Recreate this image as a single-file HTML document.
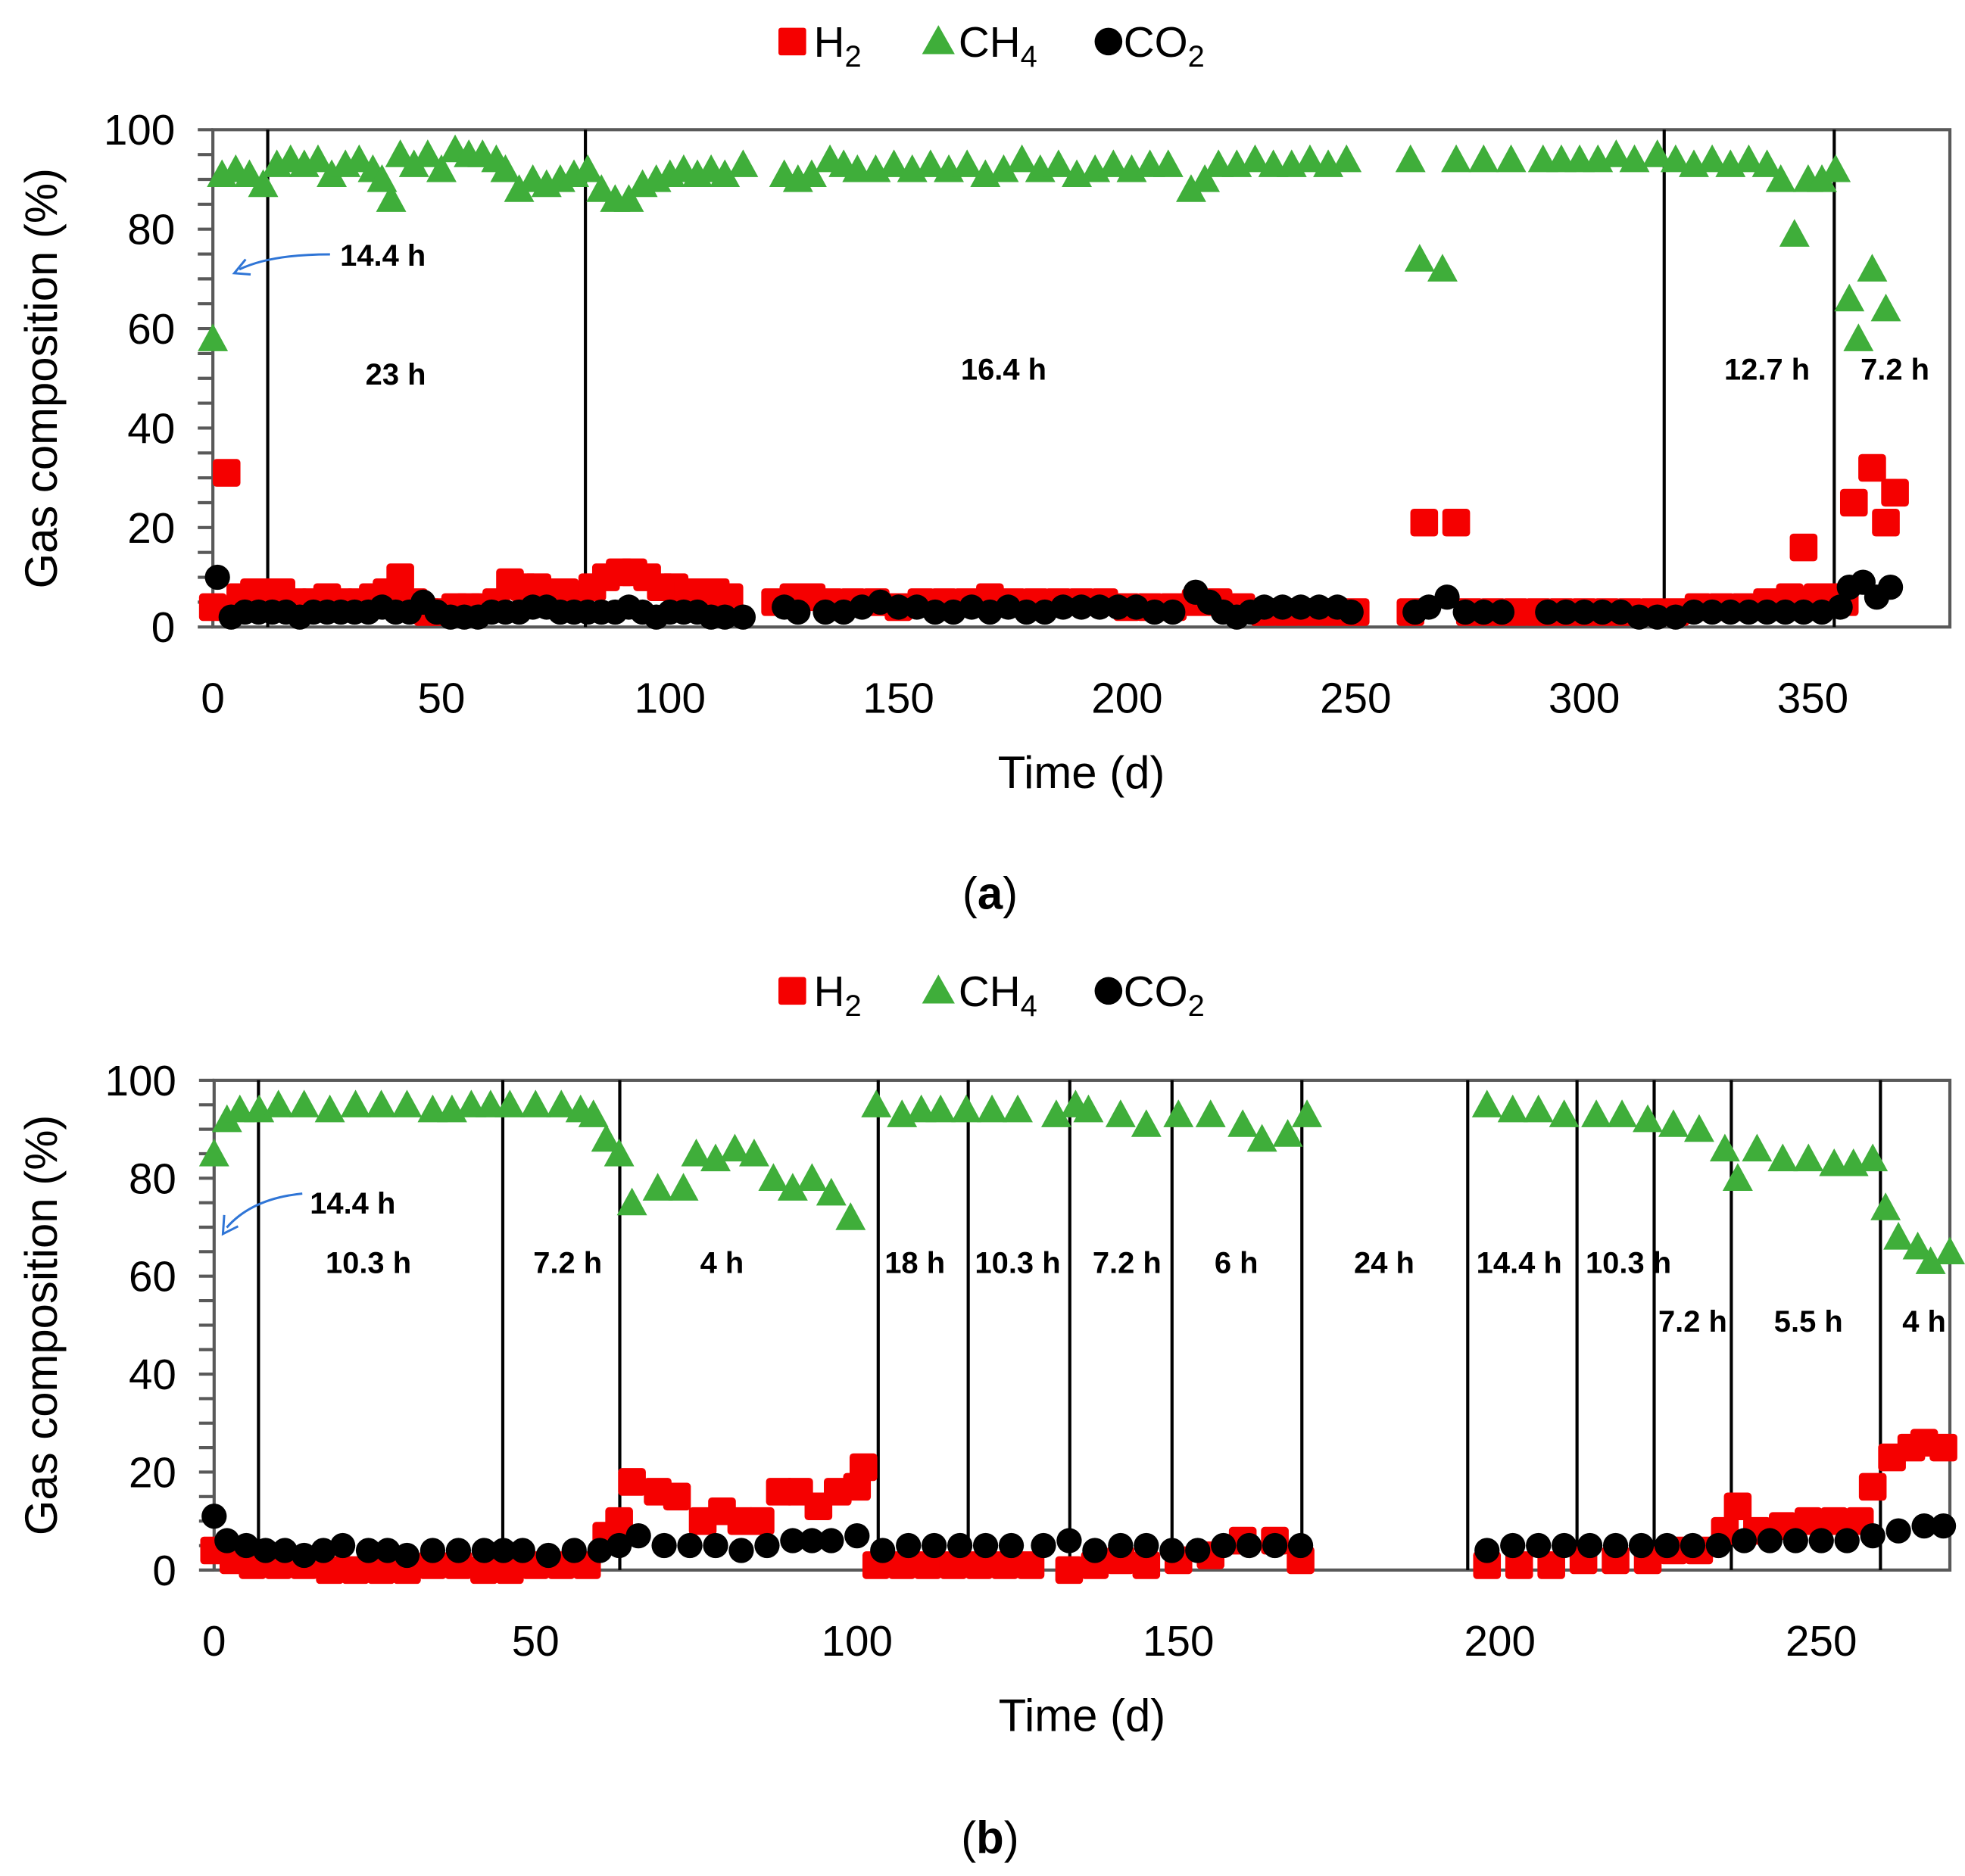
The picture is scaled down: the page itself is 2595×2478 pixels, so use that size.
<!DOCTYPE html>
<html><head><meta charset="utf-8"><style>
html,body{margin:0;padding:0;background:#fff;}
svg{display:block;}
text{font-family:"Liberation Sans","DejaVu Sans",sans-serif;}
</style></head><body>
<svg id="chart" width="2595" height="2478" viewBox="0 0 1560 1490" preserveAspectRatio="none" xmlns="http://www.w3.org/2000/svg">
<rect width="1560" height="1490" fill="#fff"/>
</svg>
<script>
// ---------- Panel (a) data ----------
const aCH4 = [[0,58],[2,91],[5,92],[8,91],[11,89],[14,93],[17,94],[20,93],[23,94],[26,91],[29,93],[32,94],[35,92],[37,90],[39,86],[41,95],[44,93],[47,95],[50,92],[53,96],[56,95],[59,95],[62,94],[64,92],[67,88],[70,90],[73,89],[76,90],[79,91],[82,92],[85,88],[88,86],[91,86],[94,89],[97,90],[100,91],[103,92],[106,91],[109,92],[112,91],[116,93],[125,91],[128,90],[131,91],[135,94],[138,93],[141,92],[145,92],[149,93],[153,92],[157,93],[161,92],[165,93],[169,91],[173,92],[177,94],[181,92],[185,93],[189,91],[193,92],[197,93],[201,92],[205,93],[209,93],[214,88],[217,90],[220,93],[224,93],[228,94],[232,93],[236,93],[240,94],[244,93],[248,94],[262,94],[264,74],[269,72],[272,94],[278,94],[284,94],[291,94],[295,94],[299,94],[303,94],[307,95],[311,94],[316,95],[320,94],[324,93],[328,94],[332,93],[336,94],[340,93],[343,90],[346,79],[349,90],[352,90],[355,92],[358,66],[360,58],[363,72],[366,64]];
const aH2 = [[0,4],[3,31],[6,6],[9,7],[12,7],[15,7],[18,5],[22,5],[25,6],[28,5],[32,5],[35,6],[38,7],[41,10],[44,5],[47,3],[50,3],[53,4],[56,4],[59,4],[62,5],[65,9],[68,8],[71,8],[74,7],[77,7],[80,6],[83,8],[86,10],[89,11],[92,11],[95,10],[98,8],[101,8],[104,7],[107,7],[110,7],[113,6],[123,5],[127,6],[131,6],[135,5],[140,5],[145,5],[150,4],[155,5],[160,5],[165,5],[170,6],[175,5],[180,5],[185,5],[190,5],[195,5],[200,4],[205,4],[210,4],[215,5],[220,5],[225,4],[230,3],[235,3],[240,3],[245,3],[250,3],[262,3],[265,21],[272,21],[275,3],[280,3],[285,3],[290,3],[295,3],[300,3],[305,3],[310,3],[315,3],[320,3],[325,4],[330,4],[335,4],[340,5],[345,6],[348,16],[351,6],[354,6],[357,5],[359,25],[363,32],[366,21],[368,27]];
const aCO2 = [[1,10],[4,2],[7,3],[10,3],[13,3],[16,3],[19,2],[22,3],[25,3],[28,3],[31,3],[34,3],[37,4],[40,3],[43,3],[46,5],[49,3],[52,2],[55,2],[58,2],[61,3],[64,3],[67,3],[70,4],[73,4],[76,3],[79,3],[82,3],[85,3],[88,3],[91,4],[94,3],[97,2],[100,3],[103,3],[106,3],[109,2],[112,2],[116,2],[125,4],[128,3],[134,3],[138,3],[142,4],[146,5],[150,4],[154,4],[158,3],[162,3],[166,4],[170,3],[174,4],[178,3],[182,3],[186,4],[190,4],[194,4],[198,4],[202,4],[206,3],[210,3],[215,7],[218,5],[221,3],[224,2],[227,3],[230,4],[234,4],[238,4],[242,4],[246,4],[249,3],[263,3],[266,4],[270,6],[274,3],[278,3],[282,3],[292,3],[296,3],[300,3],[304,3],[308,3],[312,2],[316,2],[320,2],[324,3],[328,3],[332,3],[336,3],[340,3],[344,3],[348,3],[352,3],[356,4],[358,8],[361,9],[364,6],[367,8]];
const aDividers = [12, 81.5, 317.5, 354.7];
const aLabels = [["23 h",40,51],["16.4 h",173,52],["12.7 h",340,52],["7.2 h",368,52]];
const aXTicks = [0,50,100,150,200,250,300,350];

// ---------- Panel (b) data ----------
const bCH4 = [[0,85],[2,92],[4,94],[7,94],[10,95],[14,95],[18,94],[22,95],[26,95],[30,95],[34,94],[37,94],[40,95],[43,95],[46,95],[50,95],[54,95],[57,94],[59,93],[61,88],[63,85],[65,75],[69,78],[73,78],[75,85],[78,84],[81,86],[84,85],[87,80],[90,78],[93,80],[96,77],[99,72],[103,95],[107,93],[110,94],[113,94],[117,94],[121,94],[125,94],[131,93],[134,95],[136,94],[141,93],[145,91],[150,93],[155,93],[160,91],[163,88],[167,89],[170,93],[198,95],[202,94],[206,94],[210,93],[215,93],[219,93],[223,92],[227,91],[231,90],[235,86],[237,80],[240,86],[244,84],[248,84],[252,83],[255,83],[258,84],[260,74],[262,68],[265,66],[267,63],[270,65]];
const bH2 = [[0,4],[3,2],[6,1],[10,1],[14,1],[18,0],[22,0],[26,0],[30,0],[34,1],[38,1],[42,0],[46,0],[50,1],[54,1],[58,1],[61,7],[63,10],[65,18],[69,16],[72,15],[76,10],[79,12],[82,10],[85,10],[88,16],[91,16],[94,13],[97,16],[100,17],[101,21],[103,1],[107,1],[111,1],[115,1],[119,1],[123,1],[127,1],[133,0],[137,1],[141,2],[145,1],[150,2],[155,3],[160,6],[165,6],[169,2],[198,1],[203,1],[208,1],[213,2],[218,2],[223,2],[227,4],[231,4],[235,8],[237,13],[240,8],[244,9],[248,10],[252,10],[256,10],[258,17],[261,23],[264,25],[266,26],[269,25]];
const bCO2 = [[0,11],[2,6],[5,5],[8,4],[11,4],[14,3],[17,4],[20,5],[24,4],[27,4],[30,3],[34,4],[38,4],[42,4],[45,4],[48,4],[52,3],[56,4],[60,4],[63,5],[66,7],[70,5],[74,5],[78,5],[82,4],[86,5],[90,6],[93,6],[96,6],[100,7],[104,4],[108,5],[112,5],[116,5],[120,5],[124,5],[129,5],[133,6],[137,4],[141,5],[145,5],[149,4],[153,4],[157,5],[161,5],[165,5],[169,5],[198,4],[202,5],[206,5],[210,5],[214,5],[218,5],[222,5],[226,5],[230,5],[234,5],[238,6],[242,6],[246,6],[250,6],[254,6],[258,7],[262,8],[266,9],[269,9]];
const bDividers = [6.9, 44.9, 63.1, 103.3, 117.3, 133.1, 149, 169.2, 195, 212, 224, 236, 259.2];
const bLabels = [["10.3 h",24,63],["7.2 h",55,63],["4 h",79,63],["18 h",109,63],["10.3 h",125,63],["7.2 h",142,63],["6 h",159,63],["24 h",182,63],["14.4 h",203,63],["10.3 h",220,63],["7.2 h",230,51],["5.5 h",248,51],["4 h",266,51]];
const bXTicks = [0,50,100,150,200,250];
const yTicks = [0,20,40,60,80,100];

const NS = "http://www.w3.org/2000/svg";
const svg = document.getElementById('chart');
function mk(tag, attrs, parent){ const e=document.createElementNS(NS,tag); for(const k in attrs) e.setAttribute(k,attrs[k]); (parent||svg).appendChild(e); return e; }

function panel(cfg){
  const g = mk('g',{});
  
  
  const xs = v => cfg.x0 + (v - cfg.xmin) / (cfg.xmax - cfg.xmin) * (cfg.x1 - cfg.x0);
  const ys = v => cfg.y0 - v / 100 * (cfg.y0 - cfg.y1);
  // frame
  const fr = mk('rect',{x:cfg.x0,y:cfg.y1,width:cfg.x1-cfg.x0,height:cfg.y0-cfg.y1,fill:'none',stroke:'#595959','stroke-width':2.5},g);
   
  // y ticks major and minor
  for(let v=0; v<=100; v+=5){
    const t = mk('line',{x1:cfg.x0-12,x2:cfg.x0,y1:ys(v),y2:ys(v),stroke:'#595959','stroke-width':2.5},g);
     
  }
  yTicks.forEach(v=>{
    const t = mk('text',{x:cfg.x0-30,y:ys(v)+12,'text-anchor':'end','font-size':34,fill:'#000'},g);
    t.textContent = v;
     
  });
  cfg.xticks.forEach(v=>{
    const t = mk('text',{x:xs(v),y:cfg.y0+68,'text-anchor':'middle','font-size':34,fill:'#000'},g);
    t.textContent = v;
     
  });
  const yt = mk('text',{x:0,y:0,transform:`translate(45,${(cfg.y0+cfg.y1)/2}) rotate(-90)`,'text-anchor':'middle','font-size':36,fill:'#000'},g);
  yt.textContent='Gas composition (%)';
   
  const xt = mk('text',{x:(cfg.x0+cfg.x1)/2+0,y:cfg.y0+128,'text-anchor':'middle','font-size':36,fill:'#000'},g);
  xt.textContent='Time (d)';
   
  // dividers
  cfg.dividers.forEach(d=>{
    const l = mk('line',{x1:xs(d),x2:xs(d),y1:cfg.y1,y2:cfg.y0,stroke:'#000','stroke-width':2.5},g);
     
  });
  cfg.labels.forEach(([s,x,y])=>{
    const t = mk('text',{x:xs(x),y:ys(y)+9,'text-anchor':'middle','font-size':24,'font-weight':'bold',fill:'#000'},g);
    t.textContent = s;
     
  });
  // arrow annotation
  const ar = mk('path',{d:cfg.arrow,fill:'none',stroke:'#2f75d6','stroke-width':1.8},g);
   
  const ah = mk('path',{d:cfg.arrowHead,fill:'none',stroke:'#2f75d6','stroke-width':1.8},g);
   
  const at = mk('text',{x:cfg.annX,y:cfg.annY,'font-size':24,'font-weight':'bold',fill:'#000'},g);
  at.textContent='14.4 h';
   
  // series
  cfg.ch4.forEach(([d,v])=>{
    const x=xs(d), y=ys(v);
    const p = mk('polygon',{points:`${x},${y-12} ${x-12},${y+10} ${x+12},${y+10}`,fill:'#3fae3a'},g);
     
  });
  cfg.h2.forEach(([d,v])=>{
    const x=xs(d), y=ys(v);
    const p = mk('rect',{x:x-11,y:y-11,width:22,height:22,rx:3,fill:'#f50000'},g);
     
  });
  cfg.co2.forEach(([d,v])=>{
    const p = mk('circle',{cx:xs(d),cy:ys(v),r:10,fill:'#000'},g);
     
  });
  // legend
  const lg = mk('g',{},g);
   
  const ly = cfg.legY, lx = cfg.legX;
  const s1 = mk('rect',{x:lx,y:ly-11,width:22,height:22,rx:2,fill:'#f50000'},lg);
   
  const t1 = mk('text',{x:lx+28,y:ly+12,'font-size':34,fill:'#000'},lg);
  t1.innerHTML='H<tspan font-size="24" dy="8">2</tspan>';
   
  const s2 = mk('polygon',{points:`${lx+127},${ly-13} ${lx+114},${ly+10} ${lx+140},${ly+10}`,fill:'#3fae3a'},lg);
   
  const t2 = mk('text',{x:lx+143,y:ly+12,'font-size':34,fill:'#000'},lg);
  t2.innerHTML='CH<tspan font-size="24" dy="8">4</tspan>';
   
  const s3 = mk('circle',{cx:lx+262,cy:ly,r:11,fill:'#000'},lg);
   
  const t3 = mk('text',{x:lx+274,y:ly+12,'font-size':34,fill:'#000'},lg);
  t3.innerHTML='CO<tspan font-size="24" dy="8">2</tspan>';
   
  // caption
  const cp = mk('text',{x:786,y:cfg.capY,'text-anchor':'middle','font-size':36,'font-family':'Liberation Serif, serif',fill:'#000'},g);
  cp.innerHTML = `(<tspan font-weight="bold">${cfg.cap}</tspan>)`;
   
}

panel({name:'panel-a',x0:169,x1:1548,y0:498,y1:103,xmin:0,xmax:380,ch4:aCH4,h2:aH2,co2:aCO2,dividers:aDividers,labels:aLabels,xticks:aXTicks,
  arrow:'M262,202 Q215,202 190,214', arrowHead:'M195,206 L186,217 L199,218', annX:270,annY:211, legY:33, legX:618, capY:722, cap:'a'});
panel({name:'panel-b',x0:170,x1:1548,y0:1247,y1:858,xmin:0,xmax:270,ch4:bCH4,h2:bH2,co2:bCO2,dividers:bDividers,labels:bLabels,xticks:bXTicks,
  arrow:'M240,948 Q200,952 180,975', arrowHead:'M178,965 L177,980 L189,974', annX:246,annY:964, legY:787, legX:618, capY:1472, cap:'b'});
</script>
</body></html>
